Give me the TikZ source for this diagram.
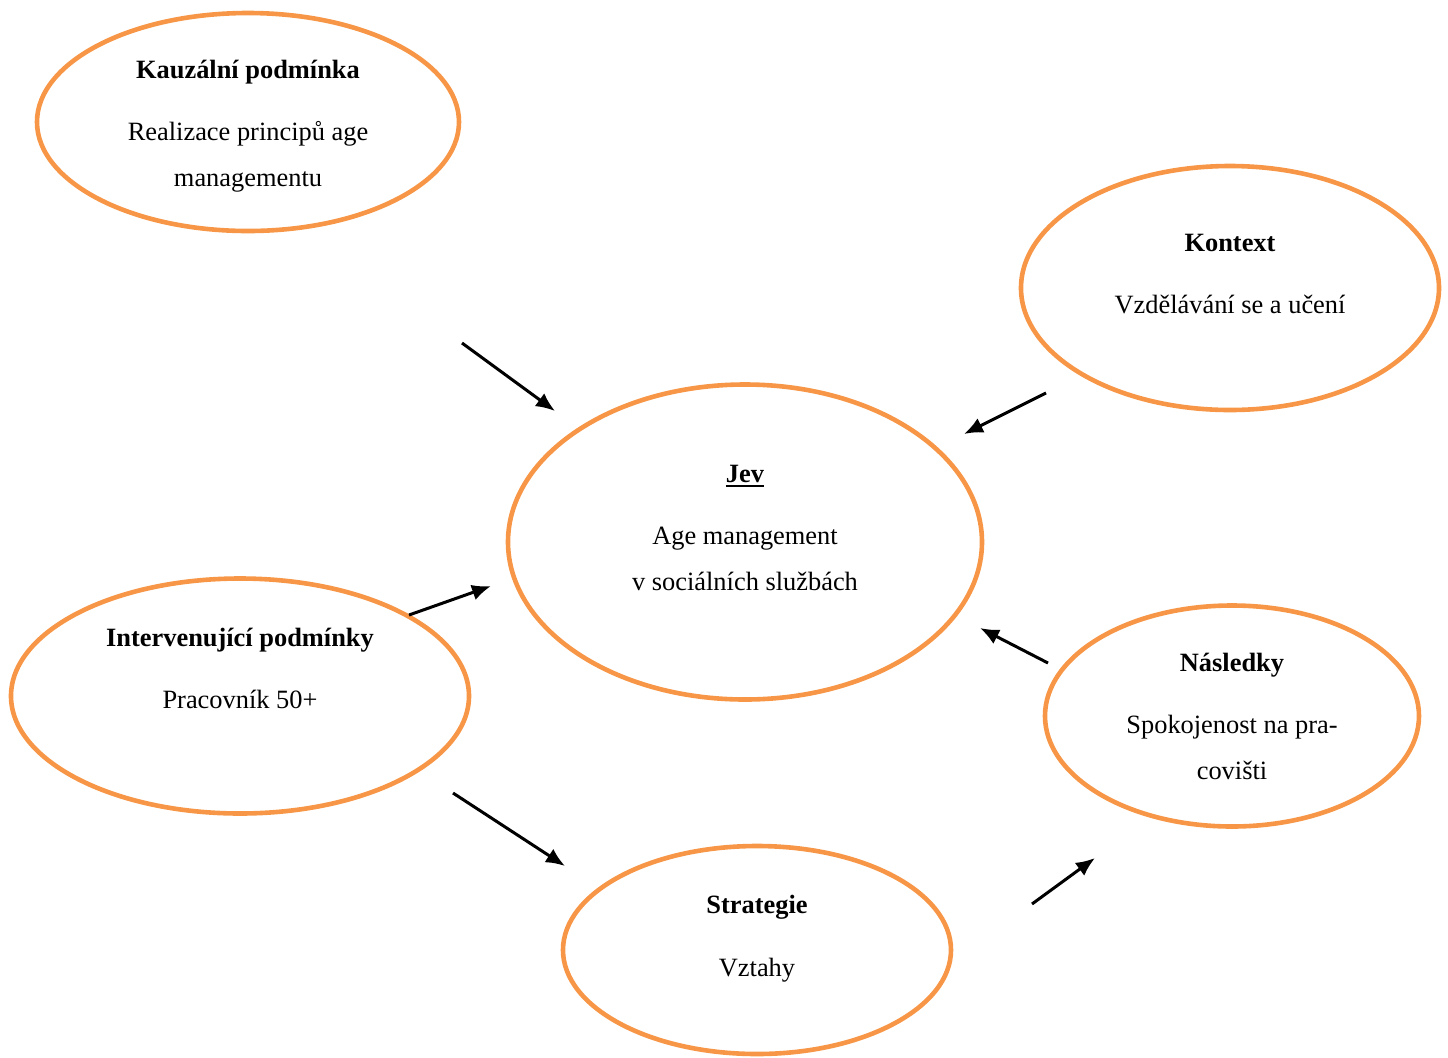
\documentclass[tikz,border=0pt]{standalone}
\usepackage{fontspec}
\setmainfont{Liberation Serif}
\usetikzlibrary{shapes.geometric,arrows.meta}
\definecolor{ellorange}{HTML}{F79646}
\tikzset{
  ell/.style={ellipse, draw=ellorange, line width=2.3pt, inner sep=0pt},
  txt/.style={anchor=base, inner sep=0pt, font=\fontsize{13.2pt}{15pt}\selectfont},
  hdr/.style={txt, font=\fontsize{13.2pt}{15pt}\selectfont\bfseries},
  arr/.style={-{Latex[length=9.5pt,width=8pt]}, line width=1.5pt, black}
}
\newcommand{\thickul}[1]{\setbox0\hbox{#1}\leavevmode\rlap{\rule[-2.6pt]{\wd0}{1.2pt}}\box0}
\begin{document}
\begin{tikzpicture}[x=0.5pt,y=-0.5pt]
\useasboundingbox (0,0) rectangle (1448,1057);
% ellipses
\node[ell, minimum width=211pt, minimum height=109pt] (kauz) at (248,122) {};
\node[ell, minimum width=209pt, minimum height=122pt] (kont) at (1230,288) {};
\node[ell, minimum width=237pt, minimum height=157.5pt] (jev) at (745,542) {};
\node[ell, minimum width=229pt, minimum height=117.5pt] (interv) at (240,696) {};
\node[ell, minimum width=187pt, minimum height=110.5pt] (nasl) at (1232,716) {};
\node[ell, minimum width=194pt, minimum height=104pt] (strat) at (757,950) {};
% texts
\node[hdr] (t1a) at (248,78) {Kauzální podmínka};
\node[txt] (t1b) at (248,140) {Realizace principů age};
\node[txt] (t1c) at (248,186) {managementu};
\node[hdr] (t2a) at (1230,251) {Kontext};
\node[txt] (t2b) at (1230,313) {Vzdělávání se a učení};
\node[hdr] (t3a) at (745,482) {\thickul{Jev}};
\node[txt] (t3b) at (745,544) {Age management};
\node[txt] (t3c) at (745,590) {v sociálních službách};
\node[hdr] (t4a) at (240,646) {Intervenující podmínky};
\node[txt] (t4b) at (240,708) {Pracovník 50+};
\node[hdr] (t5a) at (1232,671) {Následky};
\node[txt] (t5b) at (1232,733) {Spokojenost na pra-};
\node[txt] (t5c) at (1232,779) {covišti};
\node[hdr] (t6a) at (757,913) {Strategie};
\node[txt] (t6b) at (757,976) {Vztahy};
% arrow end points
\coordinate (a1s) at (462,343); \coordinate (a1e) at (555,411);
\coordinate (a2s) at (1046,393); \coordinate (a2e) at (964,434);
\coordinate (a3s) at (409,615); \coordinate (a3e) at (491,586);
\coordinate (a4s) at (1048,663); \coordinate (a4e) at (980,628);
\coordinate (a5s) at (453,793); \coordinate (a5e) at (565,866);
\coordinate (a6s) at (1032,904); \coordinate (a6e) at (1095,858);
\draw[arr] (a1s) -- (a1e);
\draw[arr] (a2s) -- (a2e);
\draw[arr] (a3s) -- (a3e);
\draw[arr] (a4s) -- (a4e);
\draw[arr] (a5s) -- (a5e);
\draw[arr] (a6s) -- (a6e);
\end{tikzpicture}
\end{document}
